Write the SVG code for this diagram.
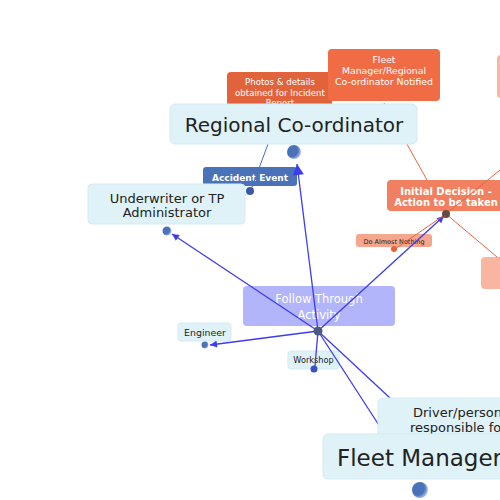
<svg xmlns="http://www.w3.org/2000/svg" width="500" height="500" viewBox="0 0 500 500">
<style>
text{font-family:"DejaVu Sans","Verdana",sans-serif;text-anchor:middle}
.lb{fill:#dff2f8;stroke:#d2ebf3;stroke-width:1}
.dk{fill:#222}
.wt{fill:#fff}
.bl{stroke:#3c3cf2;fill:none;stroke-width:1.3}
.or{stroke:#e8663e;fill:none;stroke-width:1}
</style>
<defs>
<radialGradient id="ball" cx="0.35" cy="0.4" r="0.7">
<stop offset="0.6" stop-color="#4a72b8"/>
<stop offset="1" stop-color="#c8cdf8"/>
</radialGradient>
<marker id="aS" viewBox="0 0 10 10" refX="10" refY="5" markerWidth="8" markerHeight="7" orient="auto" markerUnits="userSpaceOnUse"><path d="M0,0 L10,5 L0,10 z" fill="#3c3cf2"/></marker>
<marker id="aL" viewBox="0 0 10 10" refX="10" refY="5" markerWidth="16" markerHeight="11" orient="auto" markerUnits="userSpaceOnUse"><path d="M0,0 L10,5 L0,10 z" fill="#3c3cf2"/></marker>
<marker id="aO" viewBox="0 0 10 10" refX="10" refY="5" markerWidth="6" markerHeight="6" orient="auto" markerUnits="userSpaceOnUse"><path d="M0,0 L10,5 L0,10 z" fill="#e8663e"/></marker>
</defs>

<g id="photos">
<rect x="227" y="72" width="105" height="40" rx="4" fill="#e0633c"/>
<text class="wt" x="280" y="85" font-size="8.6">Photos &amp; details</text>
<text class="wt" x="280" y="95.5" font-size="8.6">obtained for Incident</text>
<text class="wt" x="280" y="106" font-size="8.6">Report</text>
</g>
<g id="fleet-notified">
<rect x="328" y="49" width="112" height="52" rx="4" fill="#f06c44"/>
<text class="wt" x="384" y="62.5" font-size="9.3">Fleet</text>
<text class="wt" x="384" y="74" font-size="9.3">Manager/Regional</text>
<text class="wt" x="384" y="85" font-size="9.3">Co-ordinator Notified</text>
</g>
<g id="right-top"><rect x="497" y="55" width="14" height="43" rx="4" fill="#f9b5a0"/></g>
<g id="right-mid"><rect x="481" y="257" width="30" height="32" rx="4" fill="#f9b5a0"/></g>
<g id="accident">
<rect x="203" y="167" width="94" height="19" rx="3" fill="#4a72b8"/>
<text class="wt" x="250" y="180.5" font-size="9" font-weight="bold">Accident Event</text>
</g>
<g id="underwriter">
<rect class="lb" x="88" y="184" width="157" height="40" rx="4"/>
<text class="dk" x="167" y="202.5" font-size="13">Underwriter or TP</text>
<text class="dk" x="167" y="217" font-size="13">Administrator</text>
<circle cx="167" cy="231" r="4.5" fill="url(#ball)"/>
</g>
<g id="initial">
<rect x="387" y="180" width="120" height="31" rx="4" fill="#f08060"/>
<text class="wt" x="446" y="194.5" font-size="10" font-weight="bold">Initial Decision -</text>
<text class="wt" x="446" y="206" font-size="10" font-weight="bold">Action to be taken</text>
</g>
<g id="almost-nothing">
<rect x="356" y="234" width="76" height="13" rx="3" fill="#f5a68c"/>
<text class="dk" x="394" y="243.5" font-size="6.5">Do Almost Nothing</text>
</g>
<g id="follow">
<rect x="243" y="286" width="152" height="40" rx="4" fill="#b3b5fb"/>
<text class="wt" x="319" y="303" font-size="11.5">Follow Through</text>
<text class="wt" x="319" y="318.5" font-size="11.5">Activity</text>
</g>
<g id="engineer">
<rect class="lb" x="178" y="323" width="53" height="18" rx="3"/>
<text class="dk" x="205" y="336" font-size="9.4">Engineer</text>
<circle cx="205" cy="345" r="3.5" fill="url(#ball)"/>
</g>
<g id="workshop">
<rect class="lb" x="288" y="351" width="51" height="18" rx="3"/>
<text class="dk" x="313.5" y="363" font-size="8.2">Workshop</text>
<circle cx="314" cy="369" r="3.5" fill="#3a50c0"/>
</g>

<g id="connectors">
<path class="bl" d="M318,331 L297,164" stroke-width="2" marker-end="url(#aL)"/>
<path class="bl" d="M318,331 L172,234" marker-end="url(#aS)"/>
<path class="bl" d="M318,331 L210,345" marker-end="url(#aS)"/>
<path class="bl" d="M318,331 L315,366"/>
<path class="bl" d="M318,331 L444,216" marker-end="url(#aS)"/>
<path class="bl" d="M318,331 L384,433"/>
<path class="bl" d="M318,331 L390,398"/>
<path d="M268,144 L251,190" stroke="#4a72b8" stroke-width="1" fill="none"/>
<path class="or" d="M446,214 L505,166"/>
<path class="or" d="M446,214 L497,257"/>
<path class="or" d="M446,214 L395,249"/>
<path class="or" d="M427,180 L384,103" marker-end="url(#aO)"/>
<circle cx="446" cy="214" r="4" fill="#6a4a44"/>
<circle cx="394" cy="249" r="3" fill="#e8603a"/>
<circle cx="318" cy="331" r="4.5" fill="#4a5a82"/>
<circle cx="250" cy="191" r="4" fill="#3a5aa8"/>
</g>

<g id="regional">
<rect class="lb" x="170" y="104" width="247" height="40" rx="5"/>
<text class="dk" x="294" y="132" font-size="20">Regional Co-ordinator</text>
<circle cx="294" cy="152" r="7" fill="url(#ball)"/>
</g>
<g id="driver">
<rect class="lb" x="378" y="398" width="140" height="50" rx="5"/>
<text class="dk" x="413" y="417" font-size="13" style="text-anchor:start">Driver/person</text>
<text class="dk" x="410" y="432" font-size="13" style="text-anchor:start">responsible for</text>
</g>
<g id="fleet-manager">
<rect class="lb" x="323" y="434" width="200" height="45" rx="5"/>
<text class="dk" x="337" y="466" font-size="23" style="text-anchor:start">Fleet Manager</text>
<circle cx="420" cy="490" r="8" fill="url(#ball)"/>
</g>
</svg>
